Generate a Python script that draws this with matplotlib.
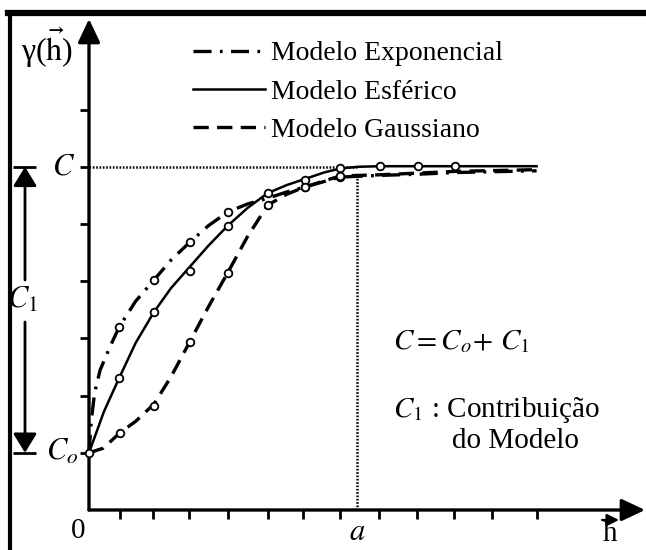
import matplotlib
matplotlib.use("Agg")
import matplotlib.pyplot as plt
from matplotlib.lines import Line2D

plt.rcParams['font.family'] = ['Liberation Serif', 'DejaVu Serif']
plt.rcParams['mathtext.fontset'] = 'stix'
plt.rcParams['lines.scale_dashes'] = False

# ---------------- data ----------------
nugget = 1.0          # C0
sill = 6.0            # C
range_a = 7.18        # a
x_ticks = [0.83, 1.72, 2.68, 3.73, 4.80, 5.74, 6.73, 7.77, 8.79, 9.79, 10.81, 12.0]
y_ticks = [1, 2, 3, 4, 5, 6, 7]

# spherical model (solid)
sph_x = [0, 0.4, 0.81, 1.25, 1.74, 2.2, 2.70, 3.2, 3.72, 4.25, 4.79, 5.3, 5.80, 6.3, 6.73, 7.2, 7.79, 8.81, 9.82, 12.0]
sph_y = [1.0, 1.72, 2.31, 2.92, 3.46, 3.88, 4.25, 4.62, 4.97, 5.28, 5.54, 5.68, 5.79, 5.90, 5.97, 6.0, 6.01, 6.01, 6.01, 6.01]
sph_mx = [0, 0.81, 1.74, 2.70, 3.72, 4.79, 5.80, 6.73, 7.79, 8.81, 9.82]
sph_my = [1.0, 2.31, 3.46, 4.18, 4.97, 5.54, 5.77, 5.98, 6.01, 6.01, 6.01]

# exponential model (dash-dot)
exp_x = [0, 0.06, 0.15, 0.3, 0.56, 0.81, 1.25, 1.74, 2.2, 2.70, 3.2, 3.72, 4.25, 4.79, 5.3, 5.80, 6.73, 7.79, 8.81, 9.82, 12.0]
exp_y = [1.0, 1.55, 2.05, 2.45, 2.85, 3.20, 3.65, 4.02, 4.37, 4.68, 4.97, 5.21, 5.35, 5.45, 5.56, 5.65, 5.82, 5.85, 5.87, 5.90, 5.93]
exp_mx = [0.81, 1.74, 2.70, 3.72, 5.80, 6.73]
exp_my = [3.20, 4.02, 4.68, 5.21, 5.65, 5.82]

# gaussian model (dashed)
gau_x = [0, 0.38, 0.83, 1.25, 1.74, 2.2, 2.70, 3.2, 3.72, 4.25, 4.79, 5.3, 5.80, 6.73, 7.79, 8.81, 9.82, 12.0]
gau_y = [1.0, 1.08, 1.35, 1.55, 1.85, 2.33, 2.94, 3.55, 4.15, 4.78, 5.33, 5.52, 5.65, 5.84, 5.86, 5.89, 5.92, 5.95]
gau_mx = [0.83, 1.74, 2.70, 3.72, 4.79, 5.80, 6.73]
gau_my = [1.35, 1.82, 2.94, 4.15, 5.33, 5.65, 5.84]

labels = ['Modelo Exponencial', 'Modelo Esférico', 'Modelo Gaussiano']

# ---------------- layout ----------------
W, H = 646, 550
X0, Y0 = 89, 510          # origin in pixels
SX, SY = 37.3, 57.2       # pixels per data unit

def px(x):   # pixel x -> data x
    return (x - X0) / SX

def py(y):   # pixel y (from top) -> data y
    return (Y0 - y) / SY

fig = plt.figure(figsize=(W / 100, H / 100), dpi=100)
ax = fig.add_axes([0, 0, 1, 1])
ax.set_xlim(px(0), px(W))
ax.set_ylim(py(H), py(0))
ax.axis('off')

k = 'black'
dashdot = (0, (13, 6, 2, 6))
dashed = (0, (11, 6))

# frame (top and left thick borders)
fig.add_artist(Line2D([8 / W, 1], [1 - 13 / H, 1 - 13 / H], color=k, lw=4.5))
fig.add_artist(Line2D([10 / W, 10 / W], [0, 1 - 13 / H], color=k, lw=3))

axis_arrow = dict(arrowstyle='-|>,head_length=0.95,head_width=0.45', lw=2.4, color=k,
                  shrinkA=0, shrinkB=0, mutation_scale=15)
# axes with arrows
ax.annotate('', xy=(0, py(19)), xytext=(0, 0), arrowprops=axis_arrow)
ax.annotate('', xy=(px(645), 0), xytext=(0, 0), arrowprops=axis_arrow)

# ticks
for t in y_ticks:
    ax.plot([px(80), 0], [t, t], color=k, lw=2, solid_capstyle='butt')
for t in x_ticks:
    ax.plot([t, t], [0, py(519)], color=k, lw=2, solid_capstyle='butt')

# dotted reference lines
ax.plot([0, range_a], [sill, sill], color=k, lw=1.8, ls=(0, (1.2, 1.2)))
ax.plot([range_a, range_a], [0, 5.86], color=k, lw=1.8, ls=(0, (1.2, 1.2)))

# curves
l_exp, = ax.plot(exp_x, exp_y, color=k, lw=2.4, ls=dashdot, label=labels[0])
l_sph, = ax.plot(sph_x, sph_y, color=k, lw=1.8, ls='-', label=labels[1])
l_gau, = ax.plot(gau_x, gau_y, color=k, lw=2.4, ls=dashed, label=labels[2])

mk = dict(ls='none', marker='o', ms=5.5, mfc='white', mec=k, mew=1.3, zorder=5)
ax.plot(exp_mx, exp_my, **mk)
ax.plot(sph_mx, sph_my, **mk)
ax.plot(gau_mx, gau_my, **mk)

# legend
leg = ax.legend(handles=[l_exp, l_sph, l_gau], loc='upper left',
                bbox_to_anchor=(193 / W, 1 - 41 / H), frameon=False,
                fontsize=20, handlelength=2.6, handletextpad=0.22,
                labelspacing=0.46, borderpad=0, borderaxespad=0)

# labels
ts = 22
ax.text(px(47), py(48), r'γ($\vec{\mathrm{h}}$)', fontsize=23, ha='center', va='center')
ax.text(px(64), py(167), r'$C$', fontsize=ts, ha='center', va='center')
ax.text(px(62), py(452), r'$C_o$', fontsize=ts, ha='center', va='center')
ax.text(px(22), py(300), r'$C_{\mathit{1}}$', fontsize=ts, ha='center', va='center')
ax.text(px(78), py(531), '0', fontsize=21, ha='center', va='center')
ax.text(range_a, py(532), r'$a$', fontsize=ts, ha='center', va='center')

# vector h label under the x axis arrow
ax.text(px(610), py(541), 'h', fontsize=21, ha='center', va='baseline')
ax.annotate('', xy=(px(619), py(520)), xytext=(px(602), py(520)),
            arrowprops=dict(arrowstyle='-|>,head_length=0.6,head_width=0.3', lw=1.6, color=k,
                            shrinkA=0, shrinkB=0, mutation_scale=12))

bs = 21
ax.text(px(393), py(342), r'$C = C_o\!+\,C_{\mathit{1}}$', fontsize=bs, ha='left', va='center')
ax.text(px(393), py(410), r'$C_{\mathit{1}}$' + ' : Contribuição', fontsize=bs, ha='left', va='center')
ax.text(px(452), py(441), 'do Modelo', fontsize=bs, ha='left', va='center')

# C1 double arrow
xa = px(25)
for yb in (sill, nugget):
    ax.plot([px(13), px(36)], [yb, yb], color=k, lw=2, solid_capstyle='butt')
c1_arrow = dict(arrowstyle='-|>,head_length=0.9,head_width=0.55', lw=2, color=k,
                shrinkA=0, shrinkB=0, mutation_scale=13)
ax.annotate('', xy=(xa, sill), xytext=(xa, py(280)), arrowprops=c1_arrow)
ax.annotate('', xy=(xa, nugget), xytext=(xa, py(322)), arrowprops=c1_arrow)

fig.savefig('out.png', dpi=100)
